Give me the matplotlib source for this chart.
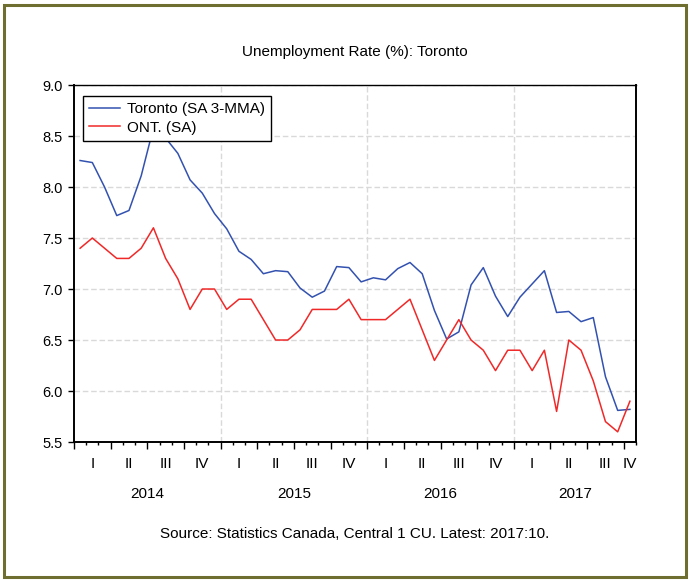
import numpy as np
import matplotlib
matplotlib.use('Agg')
from matplotlib import pyplot as plt
from matplotlib.patches import Rectangle
from matplotlib.ticker import MultipleLocator, FormatStrFormatter

plt.rcParams['font.family'] = ['Liberation Sans', 'DejaVu Sans']

# monthly, Jan 2014 .. Oct 2017
toronto = [8.26, 8.24, 8.00, 7.72, 7.77, 8.11, 8.58, 8.48, 8.33, 8.07, 7.94, 7.74,
           7.59, 7.37, 7.29, 7.15, 7.18, 7.17, 7.01, 6.92, 6.98, 7.22, 7.21, 7.07,
           7.11, 7.09, 7.20, 7.26, 7.15, 6.79, 6.51, 6.58, 7.04, 7.21, 6.93, 6.73,
           6.92, 7.05, 7.18, 6.77, 6.78, 6.68, 6.72, 6.14, 5.81, 5.82]
ontario = [7.4, 7.5, 7.4, 7.3, 7.3, 7.4, 7.6, 7.3, 7.1, 6.8, 7.0, 7.0,
           6.8, 6.9, 6.9, 6.7, 6.5, 6.5, 6.6, 6.8, 6.8, 6.8, 6.9, 6.7,
           6.7, 6.7, 6.8, 6.9, 6.6, 6.3, 6.5, 6.7, 6.5, 6.4, 6.2, 6.4,
           6.4, 6.2, 6.4, 5.8, 6.5, 6.4, 6.1, 5.7, 5.6, 5.9]
years = ['2014', '2015', '2016', '2017']
quarters = ['I', 'II', 'III', 'IV']

n = len(toronto)
x = np.arange(n) + 0.5

fig = plt.figure(figsize=(6.89, 5.80), dpi=100)
ax = fig.add_axes([0.1074, 0.2379, 0.8157, 0.6155])

ax.plot(x, toronto, color='#3352b0', lw=1.1, label='Toronto (SA 3-MMA)')
ax.plot(x, ontario, color='#f02828', lw=1.1, label='ONT. (SA)')

ax.set_xlim(0, n)
ax.set_ylim(5.5, 9.0)
ax.yaxis.set_major_locator(MultipleLocator(0.5))
ax.yaxis.set_major_formatter(FormatStrFormatter('%.1f'))
ax.grid(axis='y', color='#d9d9d9', ls=(0, (4, 2)), lw=1)
for k in range(12, n, 12):
    ax.axvline(k, color='#d9d9d9', ls=(0, (4, 2)), lw=1, zorder=0)

ax.xaxis.set_major_locator(MultipleLocator(3))
ax.xaxis.set_minor_locator(MultipleLocator(1))
ax.set_xticklabels([])
ax.tick_params(axis='x', which='major', direction='out', length=5, width=1)
ax.tick_params(axis='x', which='minor', direction='out', length=2.5, width=1)
ax.tick_params(axis='y', direction='out', length=4.3, width=1, pad=4, labelsize=10.5)

for s in ['left', 'bottom', 'right']:
    ax.spines[s].set_linewidth(1.4)
ax.spines['top'].set_linewidth(1.0)

# quarter labels (centred on the visible part of each quarter)
for q in range(0, n, 3):
    end = min(q + 3, n)
    ax.annotate(quarters[(q // 3) % 4], xy=((q + end) / 2, 0), xycoords=('data', 'axes fraction'),
                xytext=(0, -15.5), textcoords='offset points', ha='center', va='center', fontsize=11)
# year labels
for i, yr in enumerate(years):
    start = i * 12
    end = min(start + 12, n)
    ax.annotate(yr, xy=((start + end) / 2, 0), xycoords=('data', 'axes fraction'),
                xytext=(0, -37.5), textcoords='offset points', ha='center', va='center', fontsize=11)

ax.set_title('Unemployment Rate (%): Toronto', fontsize=11, pad=21)

leg = ax.legend(loc='upper left', bbox_to_anchor=(0.016, 0.969), borderaxespad=0,
                fontsize=11, handlelength=2.0, handletextpad=0.45, fancybox=False,
                framealpha=1, edgecolor='black', borderpad=0.4, labelspacing=0.3)
leg.get_frame().set_linewidth(1.0)

fig.text(0.515, 0.079, 'Source: Statistics Canada, Central 1 CU. Latest: 2017:10.',
         ha='center', va='center', fontsize=11)

fig.patches.append(Rectangle((4 / 689, 3 / 580), 682 / 689, 572 / 580, transform=fig.transFigure,
                             fill=False, edgecolor='#6e6e30', linewidth=2.2))

fig.savefig('out.png', dpi=100)
